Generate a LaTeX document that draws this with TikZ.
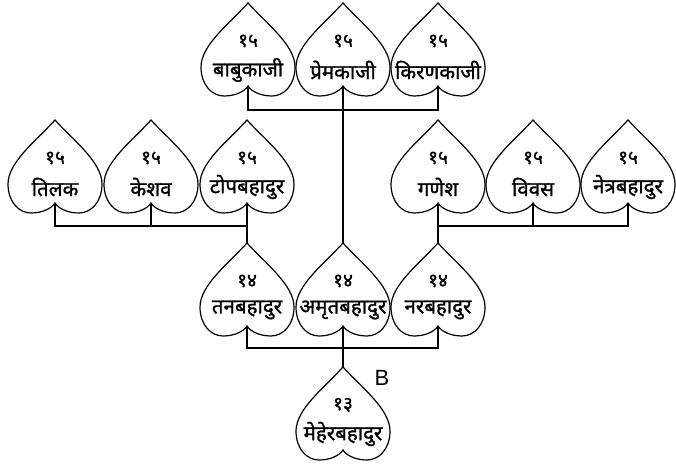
\documentclass[tikz,border=0pt]{standalone}
\usepackage{fontspec}
\newfontfamily\deva[Script=Devanagari,FakeBold=1.2]{Noto Sans}
\newfontfamily\lsans{Liberation Sans}
\tikzset{
  heartline/.style={draw=black, line width=1.2pt, fill=white, line join=miter},
  conn/.style={draw=black, line width=1.2pt},
  numtext/.style={inner sep=0pt, font=\deva\fontsize{19}{21}\selectfont},
  nametext/.style={inner sep=0pt, font=\deva\fontsize{20.5}{23}\selectfont},
  pics/heart/.style n args={2}{code={
    \path[heartline] (0,0) .. controls (-18,20) and (-47,42) .. (-47,64)
      .. controls (-47,82) and (-36,93) .. (-24,93)
      .. controls (-12,93) and (-3,88) .. (0,83)
      .. controls (3,88) and (12,93) .. (24,93)
      .. controls (36,93) and (47,82) .. (47,64)
      .. controls (47,42) and (18,20) .. (0,0) -- cycle;
    \coordinate (-tip) at (0,0);
    \coordinate (-notch) at (0,83);
    \node[numtext] (-num) at (0,38) {#1};
    \node[nametext] (-name) at (0,67) {#2};
  }}
}
\begin{document}
\begin{tikzpicture}[x=1pt,y=-1pt]
\useasboundingbox (0,0) rectangle (676,465);
% top row
\pic (babu) at (248,3) {heart={१५}{बाबुकाजी}};
\pic (prem) at (343,3) {heart={१५}{प्रेमकाजी}};
\pic (kiran) at (438,3) {heart={१५}{किरणकाजी}};
% middle row left
\pic (tilak) at (55,120) {heart={१५}{तिलक}};
\pic (keshav) at (151,120) {heart={१५}{केशव}};
\pic (topb) at (247,120) {heart={१५}{टोपबहादुर}};
% middle row right
\pic (ganesh) at (438,120) {heart={१५}{गणेश}};
\pic (bibas) at (533,120) {heart={१५}{विवस}};
\pic (netra) at (628,120) {heart={१५}{नेत्रबहादुर}};
% bottom row
\pic (tan) at (247,243) {heart={१४}{तनबहादुर}};
\pic (amrit) at (343,243) {heart={१४}{अमृतबहादुर}};
\pic (nar) at (438,243) {heart={१४}{नरबहादुर}};
% root
\pic (meher) at (343,367) {heart={१३}{मेहेरबहादुर}};
\node[font=\lsans\fontsize{22}{26}\selectfont, inner sep=0pt] (blabel) at (382,378) {B};
% bars
\coordinate (topbar) at (0,110);
\coordinate (midbar) at (0,226);
\coordinate (lowbar) at (0,348);
% connectors
\draw[conn] (babu-notch) -- (babu-notch |- topbar) -- (kiran-notch |- topbar) -- (kiran-notch);
\draw[conn] (prem-notch) -- (amrit-tip);
\draw[conn] (tilak-notch) -- (tilak-notch |- midbar) -- (topb-notch |- midbar);
\draw[conn] (keshav-notch) -- (keshav-notch |- midbar);
\draw[conn] (topb-notch) -- (tan-tip);
\draw[conn] (netra-notch) -- (netra-notch |- midbar) -- (ganesh-notch |- midbar);
\draw[conn] (bibas-notch) -- (bibas-notch |- midbar);
\draw[conn] (ganesh-notch) -- (nar-tip);
\draw[conn] (tan-notch) -- (tan-notch |- lowbar) -- (nar-notch |- lowbar) -- (nar-notch);
\draw[conn] (amrit-notch) -- (meher-tip);
\end{tikzpicture}
\end{document}
